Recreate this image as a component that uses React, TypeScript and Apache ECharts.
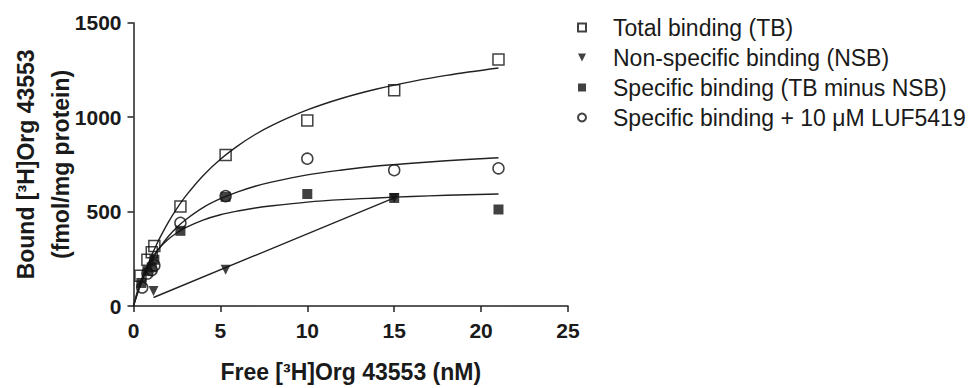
import React, { useEffect, useRef } from "react";
import * as echarts from "echarts";

// Measured points [free nM, bound fmol/mg]
const totalBinding: number[][] = [
  [0.4, 160], [0.8, 245], [1.05, 285], [1.2, 318], [2.7, 527], [5.3, 800], [10, 982], [15, 1143], [21, 1305],
];
const nonSpecific: number[][] = [
  [1.15, 80], [5.3, 192], [15, 572],
];
const specificBinding: number[][] = [
  [0.45, 122], [0.8, 185], [1.05, 205], [1.2, 245], [2.7, 398], [5.3, 578], [10, 593], [15, 572], [21, 511],
];
const specificLuf: number[][] = [
  [0.5, 98], [0.8, 172], [1.05, 190], [1.2, 215], [2.7, 440], [5.3, 582], [10, 780], [15, 719], [21, 729],
];

// Fitted curves
const curveX: number[] = [0, 0.25, 0.5, 0.75, 1, 1.25, 1.5, 2, 2.5, 3, 4, 5, 6, 7, 8, 10, 12, 14, 16, 18, 21];
const totalCurveY: number[] = [0, 74, 141, 202, 258, 310, 358, 443, 517, 582, 690, 777, 848, 908, 958, 1038, 1100, 1149, 1188, 1221, 1260];
const specificCurveY: number[] = [0, 86, 151, 203, 244, 279, 308, 353, 388, 415, 455, 483, 503, 519, 531, 550, 563, 572, 580, 586, 593];
const lufCurveY: number[] = [0, 72, 133, 186, 232, 272, 308, 368, 417, 457, 521, 568, 604, 634, 657, 694, 720, 741, 756, 769, 785];
const nsbLine: number[][] = [[1.15, 45], [15, 572]];

const xTicks = { min: 0, max: 25, interval: 5 };
const yTicks = { min: 0, max: 1500, interval: 500 };

const legendNames: string[] = [
  "Total binding (TB)",
  "Non-specific binding (NSB)",
  "Specific binding (TB minus NSB)",
  "Specific binding + 10 μM LUF5419",
];

const FONT = "'Liberation Sans', Arial, sans-serif";
const INK = "#1a1a1a";

export default function App() {
  const ref = useRef<HTMLDivElement>(null);
  useEffect(() => {
    if (!ref.current) return;
    const chart = echarts.init(ref.current, undefined, { renderer: "svg" });
    const zip = (xs: number[], ys: number[]) => xs.map((x, i) => [x, ys[i]]);
    const lineStyle = { color: "#222", width: 1.4 };
    const curve = (name: string, data: number[][], smooth: boolean | number) => ({
      type: "line",
      name,
      data,
      smooth,
      showSymbol: false,
      symbol: "none",
      lineStyle,
      itemStyle: { color: "#222" },
      silent: true,
      z: 2,
    });
    chart.setOption({
      animation: false,
      backgroundColor: "#fff",
      grid: { left: 133.5, right: 412, top: 22.7, bottom: 77, containLabel: false },
      legend: {
        data: [
          { name: legendNames[0] },
          { name: legendNames[1], icon: "path://M0,0L10,0L5,10Z" },
          { name: legendNames[2] },
          { name: legendNames[3] },
        ],
        orient: "vertical",
        left: 577,
        top: 16,
        padding: 0,
        itemWidth: 8,
        itemHeight: 8,
        itemGap: 7,
        selectedMode: false,
        textStyle: { fontFamily: FONT, fontSize: 23, color: INK, padding: [0, 0, 0, 22] },
      },
      xAxis: {
        type: "value",
        ...xTicks,
        name: "Free [³H]Org 43553 (nM)",
        nameLocation: "middle",
        nameGap: 54,
        nameMoveOverlap: false,
        nameTextStyle: { fontFamily: FONT, fontSize: 23, fontWeight: "bold", color: INK },
        axisLine: { show: true, lineStyle: { color: "#222", width: 1.5 } },
        axisTick: { show: true, length: 6, lineStyle: { color: "#222", width: 1.5 } },
        axisLabel: {
          fontFamily: FONT, fontSize: 21, fontWeight: "bold", color: INK, margin: 14,
          formatter: (v: number) => String(v),
        },
        splitLine: { show: false },
      },
      yAxis: {
        type: "value",
        ...yTicks,
        name: "Bound [³H]Org 43553\n(fmol/mg protein)",
        nameLocation: "middle",
        nameRotate: 90,
        nameGap: 55,
        nameMoveOverlap: false,
        nameTextStyle: { fontFamily: FONT, fontSize: 23, fontWeight: "bold", color: INK, lineHeight: 35 },
        axisLine: { show: true, lineStyle: { color: "#222", width: 1.5 } },
        axisTick: { show: true, length: 6, lineStyle: { color: "#222", width: 1.5 } },
        axisLabel: {
          fontFamily: FONT, fontSize: 21, fontWeight: "bold", color: INK, margin: 12,
          formatter: (v: number) => String(v),
        },
        splitLine: { show: false },
      },
      series: [
        curve("TB fit", zip(curveX, totalCurveY), 0.35),
        curve("Specific fit", zip(curveX, specificCurveY), 0.35),
        curve("LUF fit", zip(curveX, lufCurveY), 0.35),
        curve("NSB fit", nsbLine, false),
        {
          type: "scatter",
          name: legendNames[3],
          data: specificLuf,
          symbol: "circle",
          symbolSize: 11,
          itemStyle: { color: "rgba(255,255,255,0)", borderColor: "#111", borderWidth: 1.5 },
          z: 3,
        },
        {
          type: "scatter",
          name: legendNames[0],
          data: totalBinding,
          symbol: "rect",
          symbolSize: 11,
          itemStyle: { color: "rgba(255,255,255,0)", borderColor: "#111", borderWidth: 1.5 },
          z: 3,
        },
        {
          type: "scatter",
          name: legendNames[1],
          data: nonSpecific,
          symbol: "triangle",
          symbolRotate: 180,
          symbolSize: 10,
          itemStyle: { color: "#111" },
          z: 4,
        },
        {
          type: "scatter",
          name: legendNames[2],
          data: specificBinding,
          symbol: "rect",
          symbolSize: 10,
          itemStyle: { color: "#111" },
          z: 5,
        },
      ],
    });
    return () => chart.dispose();
  }, []);
  return (
    <div
      ref={ref}
      style={{ position: "fixed", left: 0, top: 0, width: 980, height: 388, background: "#fff" }}
    />
  );
}
